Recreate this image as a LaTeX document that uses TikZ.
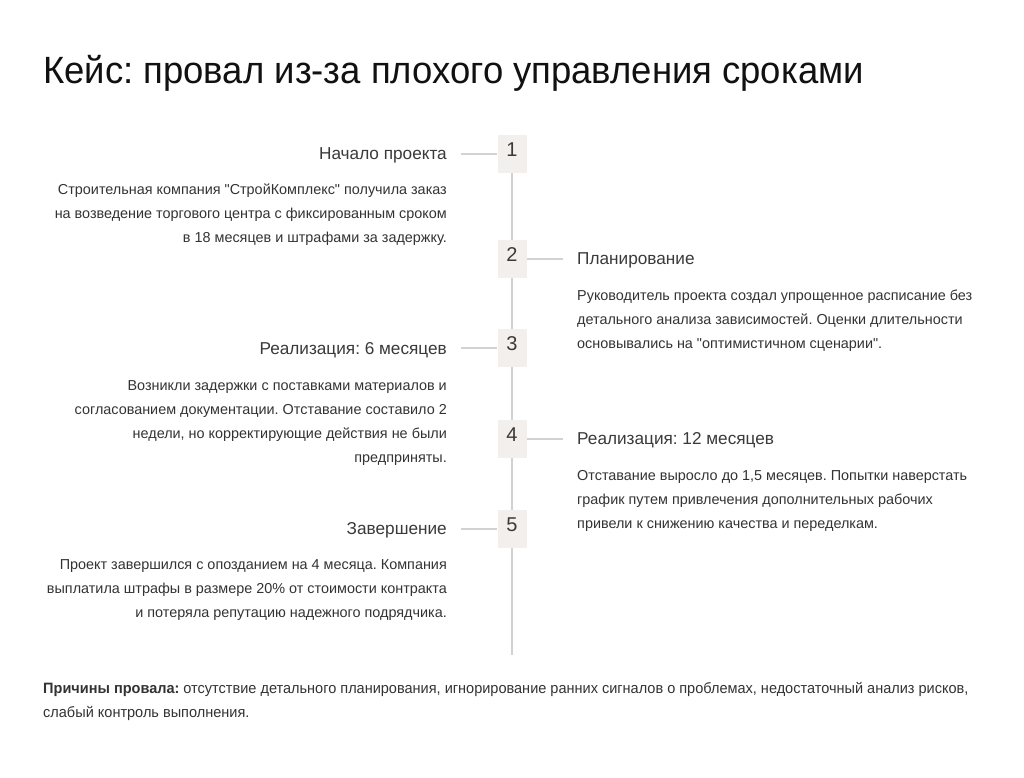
\documentclass[tikz,border=0pt]{standalone}
\usepackage{fontspec}
\setmainfont{Liberation Sans}[Ligatures=TeXOff]
\frenchspacing
\definecolor{boxfill}{HTML}{F2EFED}
\definecolor{linec}{HTML}{D2D2D2}
\definecolor{headc}{HTML}{3A3A3A}
\definecolor{bodyc}{HTML}{333333}
\definecolor{titlec}{HTML}{111111}
\tikzset{
  numbox/.style={fill=boxfill, minimum width=29pt, minimum height=38pt, inner sep=0pt, anchor=center},
  numtext/.style={font=\fontsize{20}{20}\selectfont, text=headc, inner sep=0pt, anchor=base},
  conn/.style={draw=linec, line width=1.3pt},
  headL/.style={font=\fontsize{17.2}{20}\selectfont, text=headc, inner sep=0pt, anchor=base east},
  headR/.style={font=\fontsize{17.2}{20}\selectfont, text=headc, inner sep=0pt, anchor=base west},
  bodyL/.style={font=\fontsize{14.4}{24}\selectfont, text=bodyc, inner sep=0pt, anchor=north east, align=right},
  bodyR/.style={font=\fontsize{14.4}{24}\selectfont, text=bodyc, inner sep=0pt, anchor=north west, align=left},
  footline/.style={font=\fontsize{15}{24}\selectfont, text=bodyc, inner sep=0pt, anchor=base west},
}
\begin{document}
\begin{tikzpicture}[x=1pt,y=-1pt]
\useasboundingbox[fill=white] (0,0) rectangle (1024,777);
\node[font=\fontsize{38}{40}\selectfont, text=titlec, inner sep=0pt, anchor=base west] (title) at (43,83) {\scalebox{0.96}[1]{Кейс: провал из-за плохого управления сроками}};

% timeline
\coordinate (top) at (512,135);
\coordinate (bot) at (512,655);
\draw[conn] (top) -- (bot);

\node[numbox] (b1) at (512,154) {};
\node[numbox] (b2) at (512,259) {};
\node[numbox] (b3) at (512,348) {};
\node[numbox] (b4) at (512,439) {};
\node[numbox] (b5) at (512,529) {};
\node[numtext] (n1) at (512,156) {1};
\node[numtext] (n2) at (512,261) {2};
\node[numtext] (n3) at (512,350) {3};
\node[numtext] (n4) at (512,441) {4};
\node[numtext] (n5) at (512,531) {5};

\coordinate (c1) at (461,154);
\coordinate (c2) at (563,259);
\coordinate (c3) at (461,348);
\coordinate (c4) at (563,439);
\coordinate (c5) at (461,529);
\draw[conn] (c1) -- (b1.west);
\draw[conn] (b2.east) -- (c2);
\draw[conn] (c3) -- (b3.west);
\draw[conn] (b4.east) -- (c4);
\draw[conn] (c5) -- (b5.west);

% left column
\node[headL] (h1) at (447,159) {Начало проекта};
\node[bodyL] (t1) at (447,177.2) {\strut Строительная компания "СтройКомплекс" получила заказ\\на возведение торгового центра с фиксированным сроком\\в 18 месяцев и штрафами за задержку.};

\node[headL] (h3) at (447,354) {Реализация: 6 месяцев};
\node[bodyL] (t3) at (447,373.2) {\strut Возникли задержки с поставками материалов и\\согласованием документации. Отставание составило 2\\недели, но корректирующие действия не были\\предприняты.};

\node[headL] (h5) at (447,534) {Завершение};
\node[bodyL] (t5) at (447,552.2) {\strut Проект завершился с опозданием на 4 месяца. Компания\\выплатила штрафы в размере 20\% от стоимости контракта\\и потеряла репутацию надежного подрядчика.};

% right column
\node[headR] (h2) at (577,264) {Планирование};
\node[bodyR] (t2) at (577,283.2) {\strut Руководитель проекта создал упрощенное расписание без\\детального анализа зависимостей. Оценки длительности\\основывались на "оптимистичном сценарии".};

\node[headR] (h4) at (577,444) {Реализация: 12 месяцев};
\node[bodyR] (t4) at (577,463.2) {\strut Отставание выросло до 1,5 месяцев. Попытки наверстать\\график путем привлечения дополнительных рабочих\\привели к снижению качества и переделкам.};

% bottom
\node[footline] (foot1) at (43,693) {\scalebox{0.968}[1]{\textbf{Причины провала:} отсутствие детального планирования, игнорирование ранних сигналов о проблемах, недостаточный анализ рисков,}};
\node[footline] (foot2) at (43,717) {\scalebox{0.968}[1]{слабый контроль выполнения.}};
\end{tikzpicture}
\end{document}
